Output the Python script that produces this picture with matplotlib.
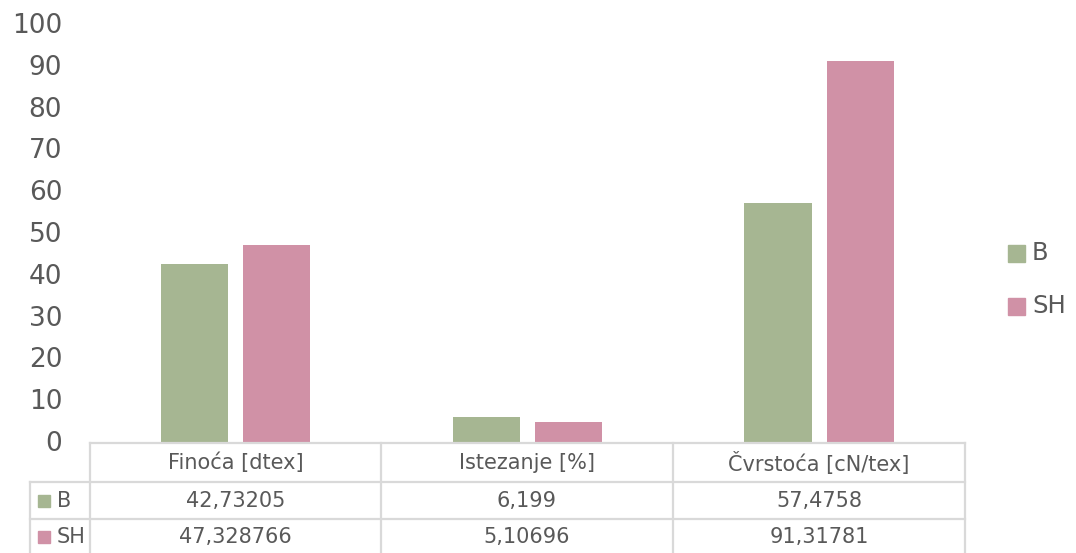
import matplotlib.pyplot as plt
import matplotlib.transforms as mtransforms
from matplotlib.patches import Rectangle
import numpy as np

plt.rcParams['font.family'] = ['DejaVu Sans']

categories = ['Finoća [dtex]', 'Istezanje [%]', 'Čvrstoća [cN/tex]']
series_names = ['B', 'SH']
b_values = [42.73205, 6.199, 57.4758]
sh_values = [47.328766, 5.10696, 91.31781]
b_labels = ['42,73205', '6,199', '57,4758']
sh_labels = ['47,328766', '5,10696', '91,31781']
yticks = [0, 10, 20, 30, 40, 50, 60, 70, 80, 90, 100]

green = '#A6B692'
pink = '#D091A6'
txt = '#595959'
grid = '#D9D9D9'

W, H = 1076, 553
fig = plt.figure(figsize=(W / 100, H / 100), dpi=100)
# pixel coordinates, origin top-left
px = mtransforms.Affine2D().scale(1 / W, -1 / H).translate(0, 1) + fig.transFigure

left, right, y0, y100 = 90, 965, 443, 25
ax = fig.add_axes([left / W, (H - y0) / H, (right - left) / W, (y0 - y100) / H])

x = np.arange(len(categories))
w = 0.23
off = 0.141
ax.bar(x - off, b_values, w, color=green)
ax.bar(x + off, sh_values, w, color=pink)
ax.set_xlim(-0.5, 2.5)
ax.set_ylim(0, 100)
ax.set_yticks(yticks)
ax.set_yticklabels([str(t) for t in yticks], fontsize=19, color=txt)
ax.tick_params(axis='y', length=0, pad=20)
ax.set_xticks([])
for s in ax.spines.values():
    s.set_visible(False)
# labels sit a little above the tick value, as in the original
offset = mtransforms.ScaledTranslation(0, 2 / 100, fig.dpi_scale_trans)
for lab in ax.get_yticklabels():
    lab.set_transform(lab.get_transform() + offset)

# data table
col_edges = [90, 381, 673, 965]
lw = 1.6
def line(xs, ys):
    fig.add_artist(plt.Line2D(xs, ys, transform=px, color=grid, lw=lw))

line([90, 965], [443, 443])
line([30, 965], [482, 482])
line([30, 965], [519, 519])
line([30, 30], [482, 560])
for cx in col_edges:
    line([cx, cx], [443, 560])

for i, cat in enumerate(categories):
    cx = (col_edges[i] + col_edges[i + 1]) / 2
    fig.text(cx, 463, cat, transform=px, ha='center', va='center', fontsize=15, color=txt)
    fig.text(cx, 501, b_labels[i], transform=px, ha='center', va='center', fontsize=15, color=txt)
    fig.text(cx, 537, sh_labels[i], transform=px, ha='center', va='center', fontsize=15, color=txt)

for yy, name, col in [(501, series_names[0], green), (537, series_names[1], pink)]:
    fig.add_artist(Rectangle((38, yy - 6), 12, 12, transform=px, color=col))
    fig.text(57, yy, name, transform=px, ha='left', va='center', fontsize=15, color=txt)

# legend
for yy, name, col in [(253, series_names[0], green), (306, series_names[1], pink)]:
    fig.add_artist(Rectangle((1008, yy - 8), 17, 17, transform=px, color=col))
    fig.text(1032, yy, name, transform=px, ha='left', va='center', fontsize=17.5, color=txt)

fig.savefig('out.png', dpi=100)
